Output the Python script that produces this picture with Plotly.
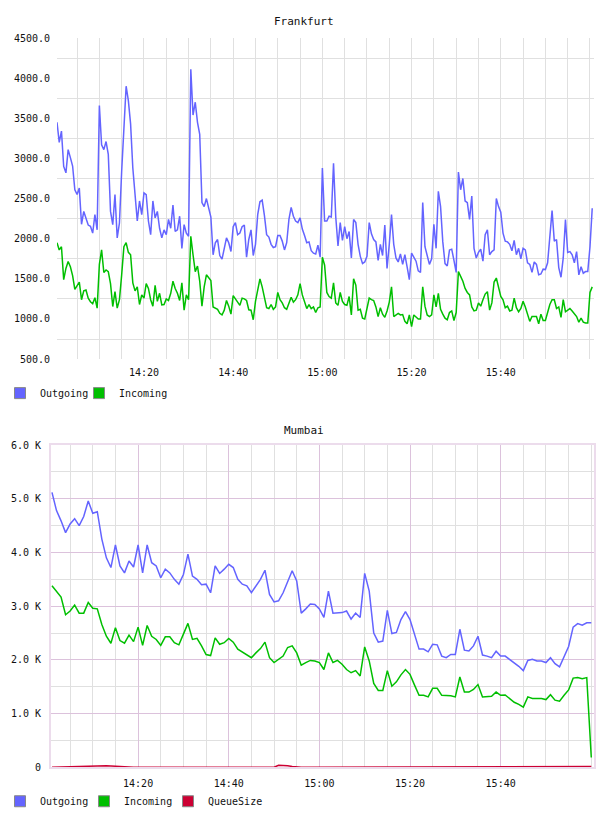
import pandas as pd
import plotly.graph_objects as go

# ---------------- data ----------------
fra_start = "2024-01-01 14:00:30"   # 30 s samples
fra_outgoing = [
    3450, 3200, 3340, 2900, 2820, 3110, 3010, 2905, 2610, 2550, 2630, 2180, 2340, 2240, 2170, 2155, 2070, 2300, 2110, 3660,
    3170, 3110, 3210, 3050, 2340, 2175, 2550, 2010, 2195, 2840, 3470, 3900, 3720, 3430, 2880, 2590, 2220, 2470, 2300, 2570,
    2550, 2220, 2050, 2470, 2260, 2340, 2130, 2010, 2110, 2050, 2240, 2130, 2420, 2090, 2110, 2280, 1880, 2175, 2070, 2030,
    4110,
    3540, 3700, 3450, 3300, 2450, 2400, 2500, 2380, 2270, 1800, 1950, 1990, 1790, 1745, 1870, 2010, 1950, 1840, 2150, 2200,
    2050, 2070, 2150, 2170, 1770, 1990, 2110, 1790, 1930, 2300, 2460, 2480, 2290, 2050, 2020, 1930, 1890, 1900, 2040, 2040,
    1970, 1860, 1950, 2240, 2390, 2280, 2220, 2200, 2260, 2120, 2040, 1950, 1960, 1850, 1820, 1810, 1920, 1770, 2880, 2220,
    2220, 2280, 2270, 2940, 2270, 1910, 2200, 1980, 2150, 2000, 2090, 1760, 2240, 2200, 1930, 1780, 1690, 1710, 1780, 2200,
    2060, 1990, 1960, 1730, 1930, 1790, 2170, 1630, 1930, 2300, 1930, 1760, 1710, 1810, 1680, 1800, 1650, 1490, 1820, 1760,
    1720, 1600, 1580, 2450, 1900, 1790, 1680, 1750, 2180, 1880, 2590, 2400, 1960, 1690, 1660, 1860, 1870, 1730, 1580, 2830,
    2610, 2750, 2470, 2450, 2240, 2530, 1880, 1760, 1830, 1870, 1720, 2050, 2110, 1800, 1840, 1860, 2500, 2400, 2330, 2070,
    1970, 1960, 1930, 1850, 1980, 1800, 1880, 1750, 1880, 1860, 1700, 1680, 1580, 1710, 1680, 1550, 1560, 1620, 1615, 1700,
    2050, 2350, 1970, 1990, 1640, 1520, 1760, 2240, 1830, 1840, 1800, 1700, 1840, 1550, 1650, 1570, 1590, 1590, 1900, 2380,
]
fra_incoming = [
    1950, 1860, 1900, 1490, 1630, 1715, 1650, 1540, 1370, 1415, 1460, 1240, 1350, 1360, 1260, 1215, 1190, 1265, 1135, 1680,
    1860, 1580, 1610, 1590, 1440, 1155, 1340, 1135, 1240, 1550, 1900, 1950, 1830, 1800, 1450, 1350, 1400, 1180, 1300, 1260,
    1440, 1380, 1240, 1160, 1420, 1220, 1320, 1175, 1180, 1250, 1230, 1320, 1470, 1380, 1320, 1230, 1450, 1110, 1300, 1240,
    2030,
    1800, 1590, 1660, 1470, 1160, 1400, 1550, 1510, 1480, 1150, 1135, 1120, 1070, 1050, 1110, 1230, 1160, 1060, 1290, 1250,
    1217, 1170, 1260, 1250, 1230, 1115, 1110, 990, 1220, 1340, 1500, 1400, 1270, 1140, 1130, 1180, 1120, 1150, 1330, 1240,
    1200, 1140, 1120, 1190, 1270, 1210, 1240, 1300, 1440, 1300, 1200, 1130, 1180, 1130, 1150, 1080, 1140, 1150, 1770, 1670,
    1330, 1280, 1260, 1450, 1200, 1170, 1330, 1220, 1180, 1170, 1280, 1050, 1500, 1420, 1110, 1120, 1010, 1000, 1130, 1260,
    1240, 1230, 1150, 1030, 1140, 1060, 1020, 1100, 1210, 1400, 1030, 1050, 1070, 1050, 1055, 970, 940, 1050, 905, 1050,
    1030, 1000, 1000, 1400, 1160, 1050, 1030, 1050, 1300, 1150, 1320, 1120, 1060, 1010, 990, 1080, 1100, 980, 1080, 1590,
    1530, 1470, 1380, 1330, 1300, 1150, 1100, 1110, 1200, 1160, 1240, 1310, 1340, 1110, 1200, 1460, 1510, 1400, 1280, 1240,
    1140, 1160, 1100, 1110, 1260, 1140, 1090, 1130, 1220, 1150, 1060, 970, 1030, 1030, 1030, 940, 1060, 980, 980, 1080,
    1180, 1240, 1240, 1130, 1150, 1020, 1240, 1090, 1110, 1130, 1100, 1060, 1030, 960, 1010, 960, 950, 950, 1330, 1400,
]

mum_start = "2024-01-01 14:01:00"   # 1 min samples
mum_outgoing = [
    5120, 4780, 4590, 4370, 4530, 4630, 4500, 4670, 4960, 4730, 4760, 4250, 3900, 3720, 4140, 3750, 3620, 3840, 3730, 4140,
    3620, 4140, 3810, 3750, 3530, 3690, 3620, 3500, 3410, 3590, 3970, 3560, 3500, 3400, 3410, 3250, 3750, 3610, 3690, 3780,
    3720, 3500, 3410, 3380, 3250, 3380, 3500, 3670, 3220, 3080, 3100, 3250, 3470, 3660, 3470, 2870, 2950, 3040, 3030, 2950,
    2790, 3280, 2870, 2880, 2880, 2910, 2760, 2870, 2790, 3610, 3280, 2500, 2330, 2350, 2920, 2490, 2510, 2750, 2900, 2750,
    2480, 2200, 2200, 2150, 2290, 2280, 2070, 2040, 2100, 2100, 2570, 2180, 2165, 2260, 2440, 2090, 2070, 2040, 2160, 2070,
    2070, 2010, 1950, 1880, 1800, 1990, 2010, 1980, 1980, 1950, 2040, 1930, 1870, 2070, 2250, 2610, 2675, 2645, 2690, 2690,
]
mum_incoming = [
    3380, 3280, 3170, 2840, 2910, 3020, 2870, 2870, 3070, 2960, 2950, 2660, 2440, 2310, 2600, 2360, 2310, 2460, 2340, 2610,
    2270, 2640, 2440, 2380, 2270, 2430, 2430, 2320, 2280, 2480, 2680, 2380, 2400, 2260, 2100, 2080, 2410, 2290, 2320, 2400,
    2330, 2200, 2150, 2100, 2040, 2130, 2210, 2330, 2040, 1950, 2010, 2070, 2230, 2260, 2130, 1900, 1950, 1990, 1980, 1950,
    1820, 2130, 1950, 1990, 1920, 1820, 1760, 1800, 1700, 2240, 1980, 1560, 1430, 1430, 1800, 1510, 1590, 1720, 1820, 1730,
    1530, 1340, 1340, 1310, 1470, 1470, 1340, 1340, 1330, 1310, 1680, 1400, 1400, 1450, 1540, 1310, 1310, 1320, 1400, 1340,
    1345, 1280, 1210, 1170, 1120, 1310, 1280, 1280, 1280, 1260, 1350, 1250, 1230, 1340, 1440, 1660, 1670, 1650, 1670, 180,
]
mum_queue = [
    0, 2, 5, 10, 14, 18, 20, 22, 25, 28, 30, 30, 28, 22, 15, 8, 3, 0, 0, 0,
    0, 0, 0, 0, 0, 0, 0, 0, 0, 0, 5, 10, 12, 12, 8, 2, 0, 0, 0, 0,
    0, 0, 0, 0, 0, 0, 0, 0, 0, 0, 35, 38, 28, 15, 5, 0, 0, 0, 0, 0,
    0, 0, 0, 0, 0, 0, 0, 0, 0, 0, 0, 0, 0, 0, 0, 0, 0, 0, 0, 0,
    0, 0, 0, 0, 0, 0, 0, 0, 0, 0, 0, 0, 0, 0, 0, 0, 0, 0, 0, 0,
    0, 0, 0, 0, 0, 0, 0, 0, 0, 0, 0, 0, 0, 2, 4, 6, 8, 10, 12, 12,
]

fra_y_ticks = [500, 1000, 1500, 2000, 2500, 3000, 3500, 4000, 4500]
mum_y_ticks = [0, 1000, 2000, 3000, 4000, 5000, 6000]
mum_y_labels = ["0", "1.0 K", "2.0 K", "3.0 K", "4.0 K", "5.0 K", "6.0 K"]
fra_x_ticks = ["14:20", "14:40", "15:00", "15:20", "15:40"]
mum_x_ticks = ["14:20", "14:40", "15:00", "15:20", "15:40"]

DAY = "2024-01-01 "
fra_time = pd.date_range(fra_start, periods=len(fra_outgoing), freq="30s")
mum_time = pd.date_range(mum_start, periods=len(mum_outgoing), freq="60s")

# ---------------- style ----------------
BLUE = "#6464ff"
GREEN = "#00bf00"
RED = "#cc0033"
GRAY_GRID = "#e0e0e0"
PURPLE_GRID = "#dcc2dc"
FONT = "DejaVu Sans Mono"
W, H = 608, 816
SY, OY = 0.985, 5.0   # observed vertical render scale / offset


def px_x(p):
    return p / W


def px_y(p):
    return 1 - ((p - OY) / SY) / H


fig = go.Figure()

fig.add_trace(go.Scatter(x=fra_time, y=fra_outgoing, mode="lines", line=dict(color=BLUE, width=1.5),
                         xaxis="x", yaxis="y", showlegend=False, name="Outgoing"))
fig.add_trace(go.Scatter(x=fra_time, y=fra_incoming, mode="lines", line=dict(color=GREEN, width=1.5),
                         xaxis="x", yaxis="y", showlegend=False, name="Incoming"))
fig.add_trace(go.Scatter(x=mum_time, y=mum_outgoing, mode="lines", line=dict(color=BLUE, width=1.5),
                         xaxis="x2", yaxis="y2", showlegend=False, name="Outgoing"))
fig.add_trace(go.Scatter(x=mum_time, y=mum_incoming, mode="lines", line=dict(color=GREEN, width=1.5),
                         xaxis="x2", yaxis="y2", showlegend=False, name="Incoming"))
fig.add_trace(go.Scatter(x=mum_time, y=mum_queue, mode="lines", line=dict(color=RED, width=1.5),
                         xaxis="x2", yaxis="y2", showlegend=False, name="QueueSize"))


def swatch(name, color, legend, xa, ya, visible_marker=True):
    return go.Scatter(x=[None], y=[None], mode="markers", name=name,
                      marker=dict(symbol="square", size=11 if visible_marker else 1,
                                  color=color if visible_marker else "rgba(0,0,0,0)",
                                  line=dict(color="#888888" if visible_marker else "rgba(0,0,0,0)", width=1)),
                      legend=legend, xaxis=xa, yaxis=ya, showlegend=True,
                      hoverinfo="skip")


fig.add_trace(swatch("Outgoing", BLUE, "legend", "x", "y"))
fig.add_trace(swatch("Incoming", GREEN, "legend", "x", "y"))
fig.add_trace(swatch(" ", BLUE, "legend", "x", "y", visible_marker=False))
fig.add_trace(swatch("Outgoing", BLUE, "legend2", "x2", "y2"))
fig.add_trace(swatch("Incoming", GREEN, "legend2", "x2", "y2"))
fig.add_trace(swatch("QueueSize", RED, "legend2", "x2", "y2"))
fig.add_trace(swatch(" ", BLUE, "legend2", "x2", "y2", visible_marker=False))

tick_font = dict(family=FONT, size=10, color="#111111")
legend_font = dict(family=FONT, size=10, color="#111111")

fig.update_layout(
    width=W, height=H,
    margin=dict(l=0, r=0, t=0, b=0),
    paper_bgcolor="white", plot_bgcolor="white",
    font=dict(family=FONT, size=10, color="#111111"),
    xaxis=dict(domain=[px_x(57), px_x(594)], anchor="y", type="date",
               range=[DAY + "14:00:30", DAY + "16:00:54"],
               tickmode="array", tickvals=[DAY + t for t in fra_x_ticks], ticktext=fra_x_ticks,
               showgrid=True, gridcolor=GRAY_GRID, gridwidth=1,
               minor=dict(dtick=5 * 60 * 1000, tick0=DAY + "14:00:00", showgrid=True,
                          gridcolor=GRAY_GRID, gridwidth=1),
               showline=False, zeroline=False, ticks="", tickfont=tick_font, ticklabelstandoff=6),
    yaxis=dict(domain=[px_y(358), px_y(37)], anchor="x",
               range=[500, 4500], tickvals=fra_y_ticks, tickformat=".1f",
               showgrid=False,
               minor=dict(tick0=750, dtick=500, showgrid=True, gridcolor=GRAY_GRID, gridwidth=1),
               showline=False, zeroline=False, ticks="", tickfont=tick_font, ticklabelstandoff=6),
    xaxis2=dict(domain=[px_x(51), px_x(594)], anchor="y2", type="date",
                range=[DAY + "14:00:47", DAY + "16:00:36"],
                tickmode="array", tickvals=[DAY + t for t in mum_x_ticks], ticktext=mum_x_ticks,
                showgrid=True, gridcolor=PURPLE_GRID, gridwidth=1,
                minor=dict(dtick=5 * 60 * 1000, tick0=DAY + "14:00:00", showgrid=True,
                           gridcolor=GRAY_GRID, gridwidth=1),
                showline=True, linecolor="#ecdcec", linewidth=2, mirror=True,
                zeroline=False, ticks="", tickfont=tick_font, ticklabelstandoff=6),
    yaxis2=dict(domain=[px_y(766), px_y(444)], anchor="x2",
                range=[0, 6000], tickvals=mum_y_ticks, ticktext=mum_y_labels,
                showgrid=True, gridcolor=PURPLE_GRID, gridwidth=1,
                minor=dict(tick0=500, dtick=1000, showgrid=True, gridcolor=GRAY_GRID, gridwidth=1),
                showline=True, linecolor="#ecdcec", linewidth=2, mirror=True,
                zeroline=False, ticks="", tickfont=tick_font, ticklabelstandoff=6),
    legend=dict(orientation="h", x=0, y=px_y(392), xanchor="left", yanchor="middle",
                font=legend_font, itemwidth=30, entrywidth=34, entrywidthmode="pixels",
                bgcolor="rgba(0,0,0,0)", tracegroupgap=0),
    legend2=dict(orientation="h", x=0, y=px_y(800), xanchor="left", yanchor="middle",
                 font=legend_font, itemwidth=30, entrywidth=39, entrywidthmode="pixels",
                 bgcolor="rgba(0,0,0,0)", tracegroupgap=0),
    annotations=[
        dict(text="Frankfurt", x=px_x(304), y=px_y(20), xref="paper", yref="paper", showarrow=False,
             font=dict(family=FONT, size=11, color="#111111"), xanchor="center", yanchor="middle"),
        dict(text="Mumbai", x=px_x(304), y=px_y(429), xref="paper", yref="paper", showarrow=False,
             font=dict(family=FONT, size=11, color="#111111"), xanchor="center", yanchor="middle"),
    ],
)

fig.write_html("out.html")
